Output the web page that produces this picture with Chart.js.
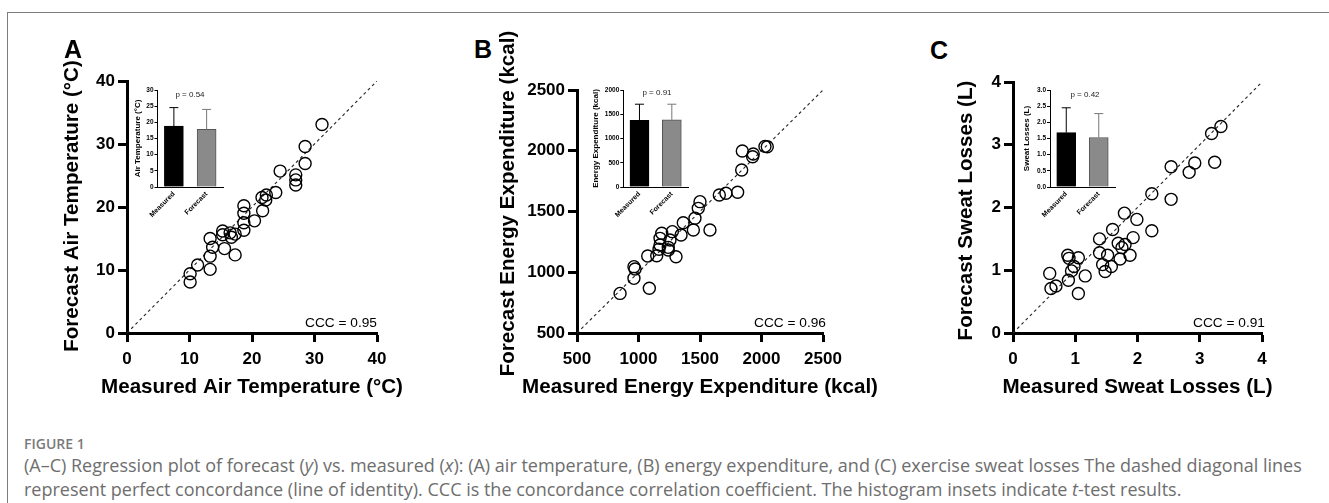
<!DOCTYPE html>
<html>
<head>
<meta charset="utf-8">
<script src="https://cdn.jsdelivr.net/npm/chart.js@4.4.1/dist/chart.umd.min.js"></script>
<style>
  html, body { margin: 0; padding: 0; background: #fff; }
  #page { position: relative; width: 1329px; height: 503px; overflow: hidden; font-family: 'Liberation Sans', Arial, sans-serif; }
  #frame { position: absolute; left: 7px; top: 12px; width: 1340px; height: 520px; border-top: 1.3px solid #7d7d7d; border-left: 1.3px solid #7d7d7d; }
  canvas { position: absolute; }
  .lbl { position: absolute; white-space: nowrap; line-height: 1; }
  .letter { font-weight: bold; font-size: 25px; color: #000; transform: translate(-50%, -50%); }
  .ccc { font-size: 13.7px; color: #000; transform: translateY(-50%); }
  .pval { font-size: 8px; color: #222; transform: translate(-50%, -50%); }
  .cap { position: absolute; left: 24px; white-space: nowrap; font-family: 'Open Sans', sans-serif; color: #6e6e6e; transform: translateY(-50%); line-height: 1.2; }
  #figno { top: 444px; font-size: 14px; font-weight: 600; color: #7a7a7a; }
  #cap1 { top: 466px; font-size: 18px; }
  #cap2 { top: 490px; font-size: 18px; }
</style>
</head>
<body>
<div id="page">
  <div id="frame"></div>
  <canvas id="scatterA"></canvas>
  <canvas id="scatterB"></canvas>
  <canvas id="scatterC"></canvas>
  <canvas id="insetA"></canvas>
  <canvas id="insetB"></canvas>
  <canvas id="insetC"></canvas>

  <div class="lbl letter" style="left:73px; top:49px;">A</div>
  <div class="lbl letter" style="left:483px; top:49px;">B</div>
  <div class="lbl letter" style="left:939px; top:50px;">C</div>

  <div class="lbl ccc" style="right:952px; top:323px;">CCC = 0.95</div>
  <div class="lbl ccc" style="right:503px; top:323px;">CCC = 0.96</div>
  <div class="lbl ccc" style="right:64px; top:323px;">CCC = 0.91</div>

  <div class="lbl pval" style="left:190px; top:95px;">p = 0.54</div>
  <div class="lbl pval" style="left:657px; top:93px;">p = 0.91</div>
  <div class="lbl pval" style="left:1085px; top:95px;">p = 0.42</div>

  <div class="cap" id="figno">FIGURE 1</div>
  <div class="cap" id="cap1">(A–C) Regression plot of forecast (<i>y</i>) vs. measured (<i>x</i>): (A) air temperature, (B) energy expenditure, and (C) exercise sweat losses The dashed diagonal lines</div>
  <div class="cap" id="cap2">represent perfect concordance (line of identity). CCC is the concordance correlation coefficient. The histogram insets indicate <i>t</i>-test results.</div>
</div>

<script>
// ---- scatter data (measured x, forecast y) ----
const tempMeasured = [31.2, 28.5, 28.5, 27.0, 27.0, 27.0, 24.5, 23.8, 22.3, 21.6, 22.2, 21.7, 20.4, 18.7, 18.7, 18.7, 18.7, 17.3, 16.5, 15.3, 15.3, 16.7, 15.6, 13.3, 13.7, 13.3, 17.3, 13.3, 11.3, 10.1, 10.1];
const tempForecast = [33.1, 29.6, 26.9, 25.1, 24.3, 23.5, 25.7, 22.3, 21.9, 21.5, 21.1, 19.4, 17.8, 20.2, 19.0, 17.5, 16.3, 15.7, 15.9, 16.2, 15.6, 15.2, 13.4, 15.0, 13.6, 12.2, 12.4, 10.1, 10.8, 9.4, 8.1];

const energyMeasured = [1844, 1933, 1928, 2028, 2047, 1839, 1657, 1711, 1806, 1500, 1486, 1459, 1446, 1364, 1581, 1346, 1275, 1189, 1175, 1256, 1175, 1242, 1167, 1242, 1148, 1075, 1305, 963, 972, 963, 1088, 850];
const energyForecast = [1998, 1973, 1951, 2036, 2033, 1842, 1636, 1650, 1658, 1581, 1526, 1444, 1348, 1408, 1348, 1307, 1334, 1321, 1279, 1265, 1224, 1205, 1189, 1183, 1136, 1134, 1128, 1046, 1027, 950, 868, 826];

const sweatMeasured = [3.34, 3.19, 3.24, 2.92, 2.83, 2.54, 2.54, 2.23, 1.79, 1.99, 2.23, 1.60, 1.93, 1.39, 1.69, 1.80, 1.75, 1.39, 1.52, 1.88, 1.72, 1.44, 1.58, 1.48, 0.88, 0.90, 1.05, 0.98, 0.94, 1.16, 0.89, 0.59, 0.69, 0.61, 1.05];
const sweatForecast = [3.29, 3.18, 2.72, 2.71, 2.56, 2.65, 2.13, 2.22, 1.91, 1.81, 1.63, 1.65, 1.52, 1.50, 1.43, 1.41, 1.36, 1.28, 1.24, 1.24, 1.18, 1.09, 1.06, 0.98, 1.24, 1.19, 1.20, 1.06, 0.99, 0.91, 0.84, 0.95, 0.75, 0.71, 0.63];

// axis ticks
const tempTicks = [0, 10, 20, 30, 40];
const energyTicks = [500, 1000, 1500, 2000, 2500];
const sweatTicks = [0, 1, 2, 3, 4];

// ---- inset bar data (mean, SD) ----
const groups = ['Measured', 'Forecast'];
const tempMean = [18.85, 17.8];
const tempSD = [5.7, 6.2];
const energyMean = [1375, 1385];
const energySD = [332, 322];
const sweatMean = [1.68, 1.53];
const sweatSD = [0.77, 0.74];

const tempInsetTicks = [0, 5, 10, 15, 20, 25, 30];
const energyInsetTicks = [0, 500, 1000, 1500, 2000];
const sweatInsetTicks = [0, 0.5, 1.0, 1.5, 2.0, 2.5, 3.0];

const sans = "'Liberation Sans', Arial, sans-serif";

function place(id, left, top, w, h) {
  const c = document.getElementById(id);
  c.width = w; c.height = h;
  c.style.left = left + 'px'; c.style.top = top + 'px';
  c.style.width = w + 'px'; c.style.height = h + 'px';
  return c;
}

// axis titles drawn at full width (the built-in scale title gets squeezed to the axis length)
const axisTitles = {
  id: 'axisTitles',
  afterDraw(chart, args, opts) {
    const { ctx, chartArea, height } = chart;
    const lh = opts.size * 1.2;
    ctx.save();
    ctx.fillStyle = '#000';
    ctx.font = 'bold ' + opts.size + 'px ' + sans;
    ctx.textAlign = 'center';
    ctx.textBaseline = 'middle';
    ctx.fillText(opts.x, (chartArea.left + chartArea.right) / 2, height - lh / 2);
    ctx.translate(lh / 2, (chartArea.top + chartArea.bottom) / 2 + opts.yShift);
    ctx.rotate(-Math.PI / 2);
    ctx.fillText(opts.y, 0, 0);
    ctx.restore();
  }
};

function scatterPanel(id, box, measured, forecast, ticks, xTitle, yTitle) {
  const canvas = place(id, box.left, box.top, box.w, box.h);
  const lo = ticks[0], hi = ticks[ticks.length - 1];
  const axis = isX => ({
    type: 'linear',
    min: lo,
    max: hi,
    afterBuildTicks: s => { s.ticks = ticks.map(v => ({ value: v })); },
    afterFit: s => { if (isX) s.height = box.xH; else s.width = box.yW; },
    grid: { display: true, drawOnChartArea: false, drawTicks: true, tickLength: 9, tickWidth: 3, tickColor: '#000' },
    border: { display: true, color: '#000', width: 3 },
    ticks: { color: '#000', padding: isX ? 7 : 3, maxRotation: 0, autoSkip: false,
             font: { family: sans, size: 17, weight: 'bold' }, callback: v => String(v) }
  });
  new Chart(canvas, {
    type: 'scatter',
    data: {
      datasets: [
        {
          data: measured.map((m, i) => ({ x: m, y: forecast[i] })),
          pointRadius: 6,
          pointHoverRadius: 6,
          pointBorderColor: '#000',
          pointBackgroundColor: 'rgba(0,0,0,0)',
          pointBorderWidth: 1.4,
          order: 1
        },
        {
          type: 'line',
          data: [{ x: lo, y: lo }, { x: hi, y: hi }],
          borderColor: '#222',
          borderWidth: 1.1,
          borderDash: [3, 3],
          pointRadius: 0,
          fill: false,
          order: 2
        }
      ]
    },
    plugins: [axisTitles],
    options: {
      responsive: false,
      animation: false,
      devicePixelRatio: 1,
      layout: { padding: { top: box.padTop, right: box.padRight, left: 0, bottom: 0 } },
      plugins: {
        legend: { display: false },
        tooltip: { enabled: false },
        axisTitles: { x: xTitle, y: yTitle, size: 20.6, yShift: box.yShift }
      },
      scales: { x: axis(true), y: axis(false) }
    }
  });
}

// error bars on the inset histograms
const errorBars = {
  id: 'errorBars',
  afterDatasetsDraw(chart, args, opts) {
    const { ctx } = chart;
    const meta = chart.getDatasetMeta(0);
    const ys = chart.scales.y;
    meta.data.forEach((bar, i) => {
      const top = ys.getPixelForValue(opts.mean[i] + opts.sd[i]);
      ctx.save();
      ctx.strokeStyle = opts.colors[i];
      ctx.lineWidth = 1;
      ctx.beginPath();
      ctx.moveTo(bar.x, bar.y);
      ctx.lineTo(bar.x, top);
      ctx.moveTo(bar.x - 4.5, top);
      ctx.lineTo(bar.x + 4.5, top);
      ctx.stroke();
      ctx.restore();
    });
  }
};

function insetPanel(id, box, mean, sd, ticks, yTitle, decimals) {
  const canvas = place(id, box.left, box.top, box.w, box.h);
  new Chart(canvas, {
    type: 'bar',
    data: {
      labels: groups,
      datasets: [{
        data: mean,
        backgroundColor: ['#000', '#8a8a8a'],
        borderColor: ['#000', '#555'],
        borderWidth: 1,
        barThickness: 19
      }]
    },
    plugins: [errorBars],
    options: {
      responsive: false,
      animation: false,
      devicePixelRatio: 1,
      layout: { padding: { top: box.padTop, right: box.padRight, left: 0, bottom: 0 } },
      plugins: {
        legend: { display: false },
        tooltip: { enabled: false },
        errorBars: { mean: mean, sd: sd, colors: ['#000', '#777'] }
      },
      scales: {
        x: {
          type: 'category',
          offset: true,
          afterFit: s => { s.height = box.xH; },
          grid: { display: false, drawTicks: false },
          border: { display: true, color: '#000', width: 1 },
          ticks: { color: '#000', padding: 3, autoSkip: false, minRotation: 45, maxRotation: 45,
                   font: { family: sans, size: 7, weight: 'bold' } }
        },
        y: {
          min: ticks[0],
          max: ticks[ticks.length - 1],
          afterBuildTicks: s => { s.ticks = ticks.map(v => ({ value: v })); },
          afterFit: s => { s.width = box.yW; },
          grid: { display: true, drawOnChartArea: false, drawTicks: true, tickLength: 3, tickWidth: 1, tickColor: '#000' },
          border: { display: true, color: '#000', width: 1 },
          ticks: { color: '#000', padding: 1, font: { family: sans, size: 6.5, weight: 'bold' },
                   callback: v => decimals ? v.toFixed(decimals) : String(v) },
          title: { display: true, text: yTitle, color: '#000', padding: 0, font: { family: sans, size: 8, weight: 'bold' } }
        }
      }
    }
  });
}

scatterPanel('scatterA', { left: 60, top: 20, w: 370, h: 380, padTop: 61, padRight: 53, yW: 67, xH: 67, yShift: -1 },
  tempMeasured, tempForecast, tempTicks, 'Measured Air Temperature (°C)', 'Forecast Air Temperature (°C)');
scatterPanel('scatterB', { left: 496, top: 20, w: 400, h: 380, padTop: 70, padRight: 73, yW: 81, xH: 67, yShift: -8 },
  energyMeasured, energyForecast, energyTicks, 'Measured Energy Expenditure (kcal)', 'Forecast Energy Expenditure (kcal)');
scatterPanel('scatterC', { left: 954, top: 20, w: 350, h: 380, padTop: 62, padRight: 42, yW: 59, xH: 67, yShift: 3 },
  sweatMeasured, sweatForecast, sweatTicks, 'Measured Sweat Losses (L)', 'Forecast Sweat Losses (L)');

insetPanel('insetA', { left: 133, top: 80, w: 97, h: 152, padTop: 10, padRight: 7, yW: 24.5, xH: 45 },
  tempMean, tempSD, tempInsetTicks, 'Air Temperature (°C)', 0);
insetPanel('insetB', { left: 591, top: 80, w: 105, h: 152, padTop: 10, padRight: 8, yW: 32.3, xH: 45 },
  energyMean, energySD, energyInsetTicks, 'Energy Expenditure (kcal)', 0);
insetPanel('insetC', { left: 1022, top: 80, w: 101, h: 152, padTop: 10, padRight: 8, yW: 28, xH: 45 },
  sweatMean, sweatSD, sweatInsetTicks, 'Sweat Losses (L)', 1);
</script>
</body>
</html>
